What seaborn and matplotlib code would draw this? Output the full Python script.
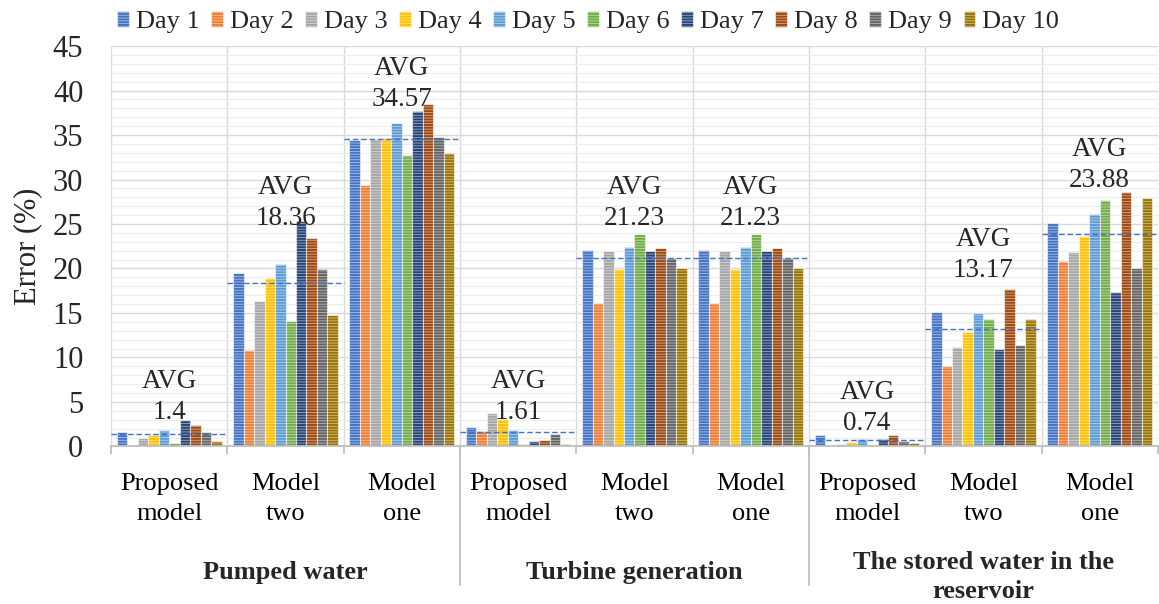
import numpy as np
import pandas as pd
import matplotlib
matplotlib.use("Agg")
import matplotlib.pyplot as plt
import matplotlib.transforms as mtransforms
from matplotlib.patches import Patch
from matplotlib.ticker import MultipleLocator, FixedLocator
import seaborn as sns

# ---------------- data ----------------
days = ["Day 1", "Day 2", "Day 3", "Day 4", "Day 5",
        "Day 6", "Day 7", "Day 8", "Day 9", "Day 10"]
day_colors = ["#4472C4", "#ED7D31", "#A5A5A5", "#FFC000", "#5B9BD5",
              "#70AD47", "#264478", "#9E480E", "#636363", "#997300"]

main_groups = ["Pumped water", "Turbine generation",
               "The stored water in the\nreservoir"]
model_labels = ["Proposed\nmodel", "Model\ntwo", "Model\none"]

pw_proposed = [1.6, 0.2, 1.0, 1.3, 1.8, 0.4, 3.0, 2.45, 1.6, 0.6]
pw_two = [19.5, 10.8, 16.4, 18.9, 20.5, 14.1, 25.3, 23.4, 19.9, 14.8]
pw_one = [34.4, 29.4, 34.5, 34.7, 36.3, 32.8, 37.7, 38.5, 34.8, 33.0]
tg_proposed = [2.2, 1.7, 3.8, 3.1, 1.9, 0.3, 0.6, 0.7, 1.4, 0.3]
tg_two = [22.1, 16.1, 22.0, 19.9, 22.4, 23.9, 22.0, 22.3, 21.2, 20.1]
tg_one = [22.1, 16.1, 22.0, 19.9, 22.4, 23.9, 22.0, 22.3, 21.2, 20.1]
sw_proposed = [1.25, 0.05, 0.3, 0.5, 0.85, 0.2, 0.85, 1.3, 0.6, 0.35]
sw_two = [15.1, 9.0, 11.2, 12.9, 15.0, 14.3, 10.9, 17.7, 11.4, 14.3]
sw_one = [25.1, 20.8, 21.9, 23.6, 26.1, 27.7, 17.4, 28.6, 20.1, 27.9]

series = [pw_proposed, pw_two, pw_one,
          tg_proposed, tg_two, tg_one,
          sw_proposed, sw_two, sw_one]
avg_values = [1.4, 18.36, 34.57, 1.61, 21.23, 21.23, 0.74, 13.17, 23.88]
avg_text = ["1.4", "18.36", "34.57", "1.61", "21.23", "21.23",
            "0.74", "13.17", "23.88"]
# y (data units) of the bottom of each AVG annotation
avg_label_y = [2.4, 24.2, 37.6, 2.4, 24.2, 24.2, 1.2, 18.4, 28.5]

y_ticks = [0, 5, 10, 15, 20, 25, 30, 35, 40, 45]

# ---------------- style ----------------
sns.set_theme(style="white")
plt.rcParams["font.family"] = ["Liberation Serif", "DejaVu Serif"]
plt.rcParams["hatch.linewidth"] = 0.6

cat_keys = [f"c{i}" for i in range(len(series))]
rows = []
for key, vals in zip(cat_keys, series):
    for d, v in zip(days, vals):
        rows.append({"cat": key, "day": d, "err": v})
df = pd.DataFrame(rows)

fig = plt.figure(figsize=(11.59, 6.04), dpi=100)
ax = fig.add_axes([0.0958, 0.2608, 0.9032, 0.663])

sns.barplot(data=df, x="cat", y="err", hue="day", order=cat_keys,
            hue_order=days, palette=day_colors, width=0.9, gap=0.0,
            saturation=1, legend=False, ax=ax, zorder=3)

for cont in ax.containers:
    for bar in cont:
        bar.set_hatch("------")
        bar.set_edgecolor((1, 1, 1, 0.55))
        bar.set_linewidth(0.8)

ax.set_xlim(-0.5, len(series) - 0.5)
ax.set_ylim(0, 45)

# grid
ax.yaxis.set_major_locator(FixedLocator(y_ticks))
ax.yaxis.set_minor_locator(MultipleLocator(1))
ax.grid(True, axis="y", which="major", color="#D9D9D9", linewidth=1.0, zorder=0)
ax.grid(True, axis="y", which="minor", color="#EDEDED", linewidth=0.8, zorder=0)
bounds = np.arange(-0.5, len(series), 1.0)
ax.xaxis.set_minor_locator(FixedLocator(bounds))
ax.grid(True, axis="x", which="minor", color="#D9D9D9", linewidth=1.0, zorder=0)
ax.grid(False, axis="x", which="major")
ax.set_axisbelow(True)

for s in ["left", "right", "top"]:
    ax.spines[s].set_visible(False)
ax.spines["bottom"].set_color("#BFBFBF")
ax.spines["bottom"].set_linewidth(1.3)
ax.spines["bottom"].set_zorder(4)

ax.set_xticks(range(len(series)))
ax.set_xticklabels(model_labels * 3, fontsize=19, linespacing=1.45)
ax.tick_params(axis="x", which="major", length=0, pad=19, colors="black")
ax.tick_params(axis="x", which="minor", length=6, width=1.3, color="#BFBFBF",
               direction="out", bottom=True)
ax.set_yticks(y_ticks)
ax.set_yticklabels([str(t) for t in y_ticks], fontsize=22)
ax.tick_params(axis="y", which="both", length=0, pad=20)
ax.set_xlabel("")
ax.set_ylabel("")
ax.text(-0.080, 0.5, "Error (%)", transform=ax.transAxes, rotation=90,
        ha="center", va="center", fontsize=22)

# AVG lines and labels
for i, (a, t, ly) in enumerate(zip(avg_values, avg_text, avg_label_y)):
    ax.plot([i - 0.5, i + 0.5], [a, a], color="#4472C4", linestyle=(0, (4, 2)),
            linewidth=1.0, zorder=5)
    ax.text(i, ly, "AVG\n" + t, ha="center", va="bottom", fontsize=19.5,
            linespacing=1.3, zorder=6)

# main group separators and labels
trans = mtransforms.blended_transform_factory(ax.transData, ax.transAxes)
for xb in [2.5, 5.5]:
    ax.plot([xb, xb], [0, -0.346], transform=trans, color="#BFBFBF",
            linewidth=1.3, clip_on=False, zorder=4)
main_label_y = [-0.314, -0.314, -0.326]
for g, (name, yy) in enumerate(zip(main_groups, main_label_y)):
    ax.text(3 * g + 1, yy, name, transform=trans, ha="center", va="center",
            fontsize=19, fontweight="bold", linespacing=1.3)

# legend
handles = [Patch(facecolor=c, edgecolor=(1, 1, 1, 0.55), hatch="------",
                 linewidth=0.8, label=d) for c, d in zip(day_colors, days)]
fig.legend(handles=handles, ncol=10, loc="upper left",
           bbox_to_anchor=(0.092, 1.0), frameon=False, fontsize=19,
           handlelength=0.45, handleheight=0.6, handletextpad=0.25,
           columnspacing=0.45, borderaxespad=0.0)

fig.savefig("out.png", dpi=100)
